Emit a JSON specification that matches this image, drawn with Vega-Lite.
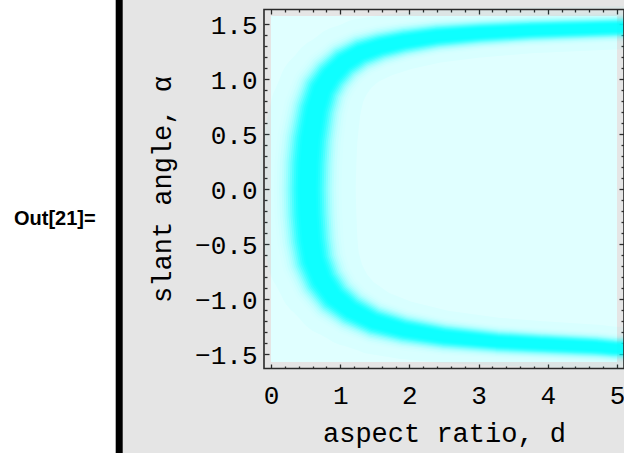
{
  "$schema": "https://vega.github.io/schema/vega-lite/v6.json",
  "width": 346,
  "height": 346,
  "autosize": {"type": "none"},
  "padding": {"left": 271, "top": 16, "right": 7, "bottom": 91},
  "background": "#e5e5e5",
  "config": {
    "view": {"stroke": null, "fill": "#e0ffff"},
    "axis": {"domain": false, "grid": false, "tickColor": "#2a2a2a", "tickWidth": 1.3, "labelColor": "black", "titleColor": "black", "labelFont": "Liberation Mono", "titleFont": "Liberation Mono", "titleFontWeight": "normal", "labelFontSize": 26, "titleFontSize": 27, "labelFlush": false, "labelOverlap": false},
    "trail": {"color": "#00ffff", "fill": "#00ffff", "clip": true}
  },
  "datasets": {
    "band": [
      {"d": 5.4, "alpha": -1.452, "spread": 0.45},
      {"d": 4.95, "alpha": -1.446, "spread": 0.45},
      {"d": 4.707, "alpha": -1.432, "spread": 0.46},
      {"d": 3.88, "alpha": -1.407, "spread": 0.48},
      {"d": 3.262, "alpha": -1.386, "spread": 0.5},
      {"d": 2.496, "alpha": -1.341, "spread": 0.55},
      {"d": 1.918, "alpha": -1.28, "spread": 0.61},
      {"d": 1.484, "alpha": -1.205, "spread": 0.68},
      {"d": 1.147, "alpha": -1.098, "spread": 0.76},
      {"d": 0.906, "alpha": -0.977, "spread": 0.84},
      {"d": 0.733, "alpha": -0.825, "spread": 0.9},
      {"d": 0.617, "alpha": -0.643, "spread": 0.95},
      {"d": 0.569, "alpha": -0.459, "spread": 0.98},
      {"d": 0.54, "alpha": -0.23, "spread": 1.0},
      {"d": 0.53, "alpha": 0, "spread": 1.0},
      {"d": 0.54, "alpha": 0.23, "spread": 1.0},
      {"d": 0.569, "alpha": 0.447, "spread": 0.98},
      {"d": 0.642, "alpha": 0.72, "spread": 0.94},
      {"d": 0.733, "alpha": 0.902, "spread": 0.9},
      {"d": 0.858, "alpha": 1.023, "spread": 0.85},
      {"d": 1.05, "alpha": 1.145, "spread": 0.78},
      {"d": 1.292, "alpha": 1.235, "spread": 0.71},
      {"d": 1.581, "alpha": 1.295, "spread": 0.65},
      {"d": 1.919, "alpha": 1.341, "spread": 0.6},
      {"d": 2.395, "alpha": 1.386, "spread": 0.55},
      {"d": 3.026, "alpha": 1.417, "spread": 0.51},
      {"d": 3.748, "alpha": 1.441, "spread": 0.48},
      {"d": 4.953, "alpha": 1.463, "spread": 0.45},
      {"d": 5.4, "alpha": 1.47, "spread": 0.45}
    ],
    "one": [{}]
  },
  "data": {"name": "band"},
  "layer": [
    {
      "data": {"name": "one"},
      "mark": {"type": "rect", "fill": "white", "clip": false},
      "encoding": {
        "x": {"datum": -4.0, "type": "quantitative", "scale": {"domain": [0, 5], "nice": false, "zero": false}, "axis": null},
        "x2": {"datum": -2.244},
        "y": {"datum": 1.9, "type": "quantitative", "scale": {"domain": [-1.5708, 1.5708], "nice": false, "zero": false}, "axis": null},
        "y2": {"datum": -2.6}
      }
    },
    {
      "data": {"name": "one"},
      "mark": {"type": "rect", "fill": "black", "clip": false},
      "encoding": {
        "x": {"datum": -2.244, "type": "quantitative", "scale": {"domain": [0, 5], "nice": false, "zero": false}, "axis": null},
        "x2": {"datum": -2.143},
        "y": {"datum": 1.9, "type": "quantitative", "scale": {"domain": [-1.5708, 1.5708], "nice": false, "zero": false}, "axis": null},
        "y2": {"datum": -2.6}
      }
    },
    {
      "data": {"name": "one"},
      "mark": {"type": "text", "text": "Out[21]=", "font": "Liberation Sans", "fontWeight": "bold", "fontSize": 20, "align": "right", "baseline": "middle", "color": "black", "clip": false},
      "encoding": {
        "x": {"datum": -2.533, "type": "quantitative", "scale": {"domain": [0, 5], "nice": false, "zero": false}, "axis": null},
        "y": {"datum": -0.27, "type": "quantitative", "scale": {"domain": [-1.5708, 1.5708], "nice": false, "zero": false}, "axis": null}
      }
    },
    {
      "mark": {"type": "trail", "opacity": 0.035},
      "encoding": {
        "x": {"field": "d", "type": "quantitative", "scale": {"domain": [0, 5], "nice": false, "zero": false},
              "axis": {"orient": "bottom", "values": [0.2,0.4,0.6,0.8,1.2,1.4,1.6,1.8,2.2,2.4,2.6,2.8,3.2,3.4,3.6,3.8,4.2,4.4,4.6,4.8], "offset": 6.5, "tickSize": -2.5, "labels": false, "title": null}},
        "y": {"field": "alpha", "type": "quantitative", "scale": {"domain": [-1.5708, 1.5708], "nice": false, "zero": false},
              "axis": {"orient": "left", "values": [-1.6,-1.4,-1.3,-1.2,-1.1,-0.9,-0.8,-0.7,-0.6,-0.4,-0.3,-0.2,-0.1,0.1,0.2,0.3,0.4,0.6,0.7,0.8,0.9,1.1,1.2,1.3,1.4,1.6], "offset": 7, "tickSize": -3, "labels": false, "title": null}},
        "order": {"field": "alpha", "type": "quantitative"},
        "size": {"field": "spread", "type": "quantitative", "scale": {"domain": [0, 1], "range": [0, 96]}, "legend": null}
      }
    },
    {
      "mark": {"type": "trail", "opacity": 0.013},
      "encoding": {
        "x": {"field": "d", "type": "quantitative", "scale": {"domain": [0, 5], "nice": false, "zero": false},
              "axis": {"orient": "top", "values": [0,1,2,3,4,5], "offset": 6.5, "tickSize": -4.5, "labels": false, "title": null}},
        "y": {"field": "alpha", "type": "quantitative", "scale": {"domain": [-1.5708, 1.5708], "nice": false, "zero": false},
              "axis": {"orient": "right", "values": [-1.5,-1,-0.5,0,0.5,1,1.5], "offset": 7, "tickSize": -5, "labels": false, "title": null}},
        "order": {"field": "alpha", "type": "quantitative"},
        "size": {"field": "spread", "type": "quantitative", "scale": {"domain": [0, 1], "range": [0, 68]}, "legend": null}
      }
    },
    {
      "mark": {"type": "trail", "opacity": 0.023},
      "encoding": {
        "x": {"field": "d", "type": "quantitative", "scale": {"domain": [0, 5], "nice": false, "zero": false},
              "axis": {"orient": "top", "values": [0.2,0.4,0.6,0.8,1.2,1.4,1.6,1.8,2.2,2.4,2.6,2.8,3.2,3.4,3.6,3.8,4.2,4.4,4.6,4.8], "offset": 6.5, "tickSize": -2.5, "labels": false, "title": null}},
        "y": {"field": "alpha", "type": "quantitative", "scale": {"domain": [-1.5708, 1.5708], "nice": false, "zero": false},
              "axis": {"orient": "right", "values": [-1.6,-1.4,-1.3,-1.2,-1.1,-0.9,-0.8,-0.7,-0.6,-0.4,-0.3,-0.2,-0.1,0.1,0.2,0.3,0.4,0.6,0.7,0.8,0.9,1.1,1.2,1.3,1.4,1.6], "offset": 7, "tickSize": -3, "labels": false, "title": null}},
        "order": {"field": "alpha", "type": "quantitative"},
        "size": {"field": "spread", "type": "quantitative", "scale": {"domain": [0, 1], "range": [0, 62]}, "legend": null}
      }
    },
    {"mark": {"type": "trail", "opacity": 0.042},
     "encoding": {"x": {"field": "d", "type": "quantitative", "scale": {"domain": [0, 5], "nice": false, "zero": false}, "axis": null}, "y": {"field": "alpha", "type": "quantitative", "scale": {"domain": [-1.5708, 1.5708], "nice": false, "zero": false}, "axis": null}, "order": {"field": "alpha", "type": "quantitative"},
      "size": {"field": "spread", "type": "quantitative", "scale": {"domain": [0, 1], "range": [0, 57]}, "legend": null}}},
    {"mark": {"type": "trail", "opacity": 0.058},
     "encoding": {"x": {"field": "d", "type": "quantitative", "scale": {"domain": [0, 5], "nice": false, "zero": false}, "axis": null}, "y": {"field": "alpha", "type": "quantitative", "scale": {"domain": [-1.5708, 1.5708], "nice": false, "zero": false}, "axis": null}, "order": {"field": "alpha", "type": "quantitative"},
      "size": {"field": "spread", "type": "quantitative", "scale": {"domain": [0, 1], "range": [0, 52]}, "legend": null}}},
    {"mark": {"type": "trail", "opacity": 0.077},
     "encoding": {"x": {"field": "d", "type": "quantitative", "scale": {"domain": [0, 5], "nice": false, "zero": false}, "axis": null}, "y": {"field": "alpha", "type": "quantitative", "scale": {"domain": [-1.5708, 1.5708], "nice": false, "zero": false}, "axis": null}, "order": {"field": "alpha", "type": "quantitative"},
      "size": {"field": "spread", "type": "quantitative", "scale": {"domain": [0, 1], "range": [0, 48]}, "legend": null}}},
    {"mark": {"type": "trail", "opacity": 0.111},
     "encoding": {"x": {"field": "d", "type": "quantitative", "scale": {"domain": [0, 5], "nice": false, "zero": false}, "axis": null}, "y": {"field": "alpha", "type": "quantitative", "scale": {"domain": [-1.5708, 1.5708], "nice": false, "zero": false}, "axis": null}, "order": {"field": "alpha", "type": "quantitative"},
      "size": {"field": "spread", "type": "quantitative", "scale": {"domain": [0, 1], "range": [0, 44]}, "legend": null}}},
    {"mark": {"type": "trail", "opacity": 0.156},
     "encoding": {"x": {"field": "d", "type": "quantitative", "scale": {"domain": [0, 5], "nice": false, "zero": false}, "axis": null}, "y": {"field": "alpha", "type": "quantitative", "scale": {"domain": [-1.5708, 1.5708], "nice": false, "zero": false}, "axis": null}, "order": {"field": "alpha", "type": "quantitative"},
      "size": {"field": "spread", "type": "quantitative", "scale": {"domain": [0, 1], "range": [0, 40]}, "legend": null}}},
    {"mark": {"type": "trail", "opacity": 0.2},
     "encoding": {"x": {"field": "d", "type": "quantitative", "scale": {"domain": [0, 5], "nice": false, "zero": false}, "axis": null}, "y": {"field": "alpha", "type": "quantitative", "scale": {"domain": [-1.5708, 1.5708], "nice": false, "zero": false}, "axis": null}, "order": {"field": "alpha", "type": "quantitative"},
      "size": {"field": "spread", "type": "quantitative", "scale": {"domain": [0, 1], "range": [0, 36]}, "legend": null}}},
    {"mark": {"type": "trail", "opacity": 0.259},
     "encoding": {"x": {"field": "d", "type": "quantitative", "scale": {"domain": [0, 5], "nice": false, "zero": false}, "axis": null}, "y": {"field": "alpha", "type": "quantitative", "scale": {"domain": [-1.5708, 1.5708], "nice": false, "zero": false}, "axis": null}, "order": {"field": "alpha", "type": "quantitative"},
      "size": {"field": "spread", "type": "quantitative", "scale": {"domain": [0, 1], "range": [0, 32]}, "legend": null}}},
    {"mark": {"type": "trail", "opacity": 0.3125},
     "encoding": {"x": {"field": "d", "type": "quantitative", "scale": {"domain": [0, 5], "nice": false, "zero": false}, "axis": null}, "y": {"field": "alpha", "type": "quantitative", "scale": {"domain": [-1.5708, 1.5708], "nice": false, "zero": false}, "axis": null}, "order": {"field": "alpha", "type": "quantitative"},
      "size": {"field": "spread", "type": "quantitative", "scale": {"domain": [0, 1], "range": [0, 28]}, "legend": null}}},
    {"mark": {"type": "trail", "opacity": 0.364},
     "encoding": {"x": {"field": "d", "type": "quantitative", "scale": {"domain": [0, 5], "nice": false, "zero": false}, "axis": null}, "y": {"field": "alpha", "type": "quantitative", "scale": {"domain": [-1.5708, 1.5708], "nice": false, "zero": false}, "axis": null}, "order": {"field": "alpha", "type": "quantitative"},
      "size": {"field": "spread", "type": "quantitative", "scale": {"domain": [0, 1], "range": [0, 24]}, "legend": null}}},
    {"mark": {"type": "trail", "opacity": 0.371},
     "encoding": {"x": {"field": "d", "type": "quantitative", "scale": {"domain": [0, 5], "nice": false, "zero": false}, "axis": null}, "y": {"field": "alpha", "type": "quantitative", "scale": {"domain": [-1.5708, 1.5708], "nice": false, "zero": false}, "axis": null}, "order": {"field": "alpha", "type": "quantitative"},
      "size": {"field": "spread", "type": "quantitative", "scale": {"domain": [0, 1], "range": [0, 20]}, "legend": null}}},
    {"mark": {"type": "trail", "opacity": 0.273},
     "encoding": {"x": {"field": "d", "type": "quantitative", "scale": {"domain": [0, 5], "nice": false, "zero": false}, "axis": null}, "y": {"field": "alpha", "type": "quantitative", "scale": {"domain": [-1.5708, 1.5708], "nice": false, "zero": false}, "axis": null}, "order": {"field": "alpha", "type": "quantitative"},
      "size": {"field": "spread", "type": "quantitative", "scale": {"domain": [0, 1], "range": [0, 16]}, "legend": null}}},
    {
      "data": {"name": "one"},
      "mark": {"type": "rect", "fill": "transparent", "stroke": "#2a2a2a", "strokeWidth": 1.6, "clip": false},
      "encoding": {
        "x": {"datum": -0.1012, "type": "quantitative", "scale": {"domain": [0, 5], "nice": false, "zero": false},
              "axis": {"orient": "bottom", "values": [0,1,2,3,4,5], "format": "d", "offset": 6.5, "tickSize": -4.5, "labelBaseline": "alphabetic", "labelPadding": 39, "title": "aspect ratio, d", "titlePadding": 12}},
        "x2": {"datum": 5.1012},
        "y": {"datum": 1.63, "type": "quantitative", "scale": {"domain": [-1.5708, 1.5708], "nice": false, "zero": false},
              "axis": {"orient": "left", "values": [-1.5,-1,-0.5,0,0.5,1,1.5], "format": ".1f", "offset": 7, "tickSize": -5, "labelPadding": 12, "labelOffset": 1.5, "title": "slant angle, α", "titlePadding": 18}},
        "y2": {"datum": -1.63}
      }
    }
  ],
  "resolve": {"scale": {"size": "independent"}, "axis": {"x": "independent", "y": "independent"}}
}
